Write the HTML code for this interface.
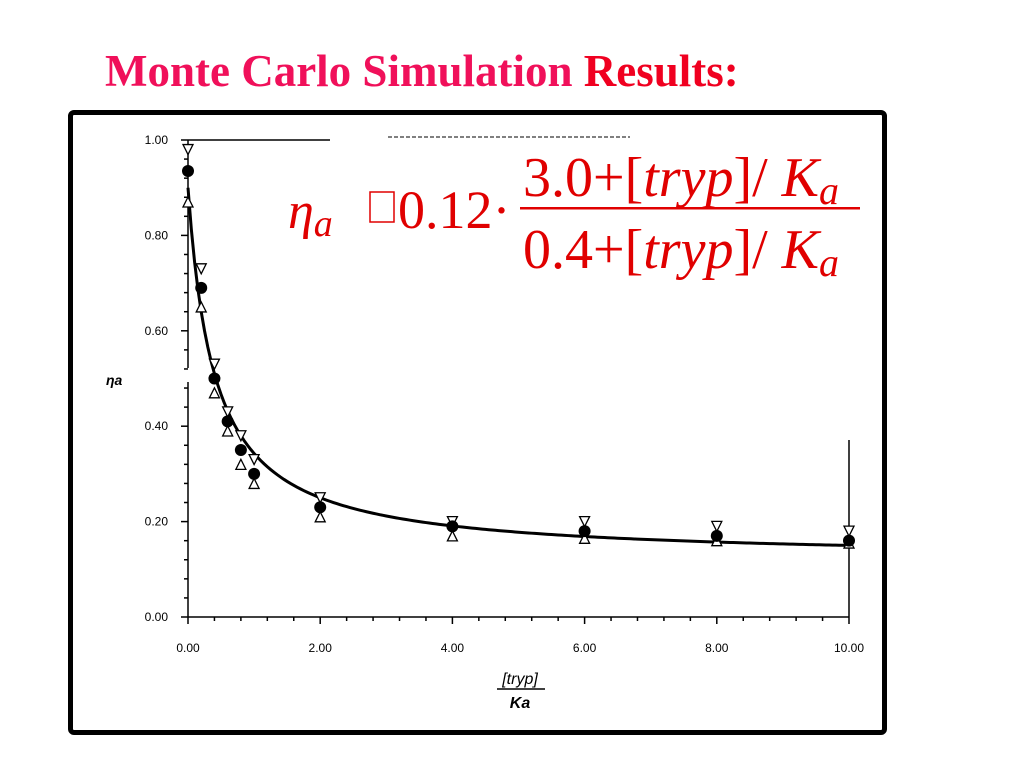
<!DOCTYPE html>
<html><head><meta charset="utf-8"><style>
body{margin:0;background:#fff;width:1024px;height:768px;overflow:hidden;position:relative;font-family:"Liberation Sans",sans-serif}
#title{position:absolute;left:105px;top:44px;font:bold 45px "Liberation Serif",serif;color:#f0105a;white-space:nowrap;line-height:1.2}
#frame{position:absolute;left:68px;top:110px;width:809px;height:615px;border:5px solid #000;border-radius:6px}
</style></head><body>
<div id="title">Monte Carlo Simulation <span style="color:#f00020">Results:</span></div>
<div id="frame"></div>
<svg id="chart" width="1024" height="768" style="position:absolute;left:0;top:0">
<g id="eq" fill="#e00000" font-family="Liberation Serif, serif">
<text x="288" y="228" font-size="52" font-style="italic">η<tspan font-size="38" dy="8">a</tspan></text>
<rect x="370" y="192" width="24" height="30" fill="none" stroke="#e00000" stroke-width="1.5"/>
<text x="398" y="228" font-size="54">0.12·</text>
<text x="523" y="196" font-size="56">3.0+[<tspan font-style="italic">tryp</tspan>]/ <tspan font-style="italic">K</tspan><tspan font-style="italic" font-size="40" dy="8">a</tspan></text>
<rect x="520" y="207" width="340" height="2.5"/>
<text x="523" y="268" font-size="56">0.4+[<tspan font-style="italic">tryp</tspan>]/ <tspan font-style="italic">K</tspan><tspan font-style="italic" font-size="40" dy="8">a</tspan></text>
</g>
</svg>
<script>
const xTicks=[0,2,4,6,8,10];
const xTickLabels=["0.00","2.00","4.00","6.00","8.00","10.00"];
const yTicks=[0,0.2,0.4,0.6,0.8,1.0];
const yTickLabels=["0.00","0.20","0.40","0.60","0.80","1.00"];
const xVals=[0,0.2,0.4,0.6,0.8,1,2,4,6,8,10];
const circleVals=[0.935,0.69,0.50,0.41,0.35,0.30,0.23,0.19,0.18,0.17,0.16];
const downTriVals=[0.98,0.73,0.53,0.43,0.38,0.33,0.25,0.20,0.20,0.19,0.18];
const upTriVals=[0.87,0.65,0.47,0.39,0.32,0.28,0.21,0.17,0.165,0.16,0.155];
const fitParams=[0.12,3.0,0.4];
const svg=document.getElementById('chart');
const NS='http://www.w3.org/2000/svg';
const X0=188,X1=849,Y0=617,Y1=140;
const sx=v=>X0+(v-0)/(10-0)*(X1-X0);
const sy=v=>Y0-(v-0)/(1-0)*(Y0-Y1);
function mk(tag,attrs,parent){const e=document.createElementNS(NS,tag);for(const k in attrs)e.setAttribute(k,attrs[k]);(parent||svg).appendChild(e);return e;}
const ax=mk('g',{stroke:'#000','stroke-width':1.5,fill:'none'});


mk('line',{x1:X0,y1:Y1,x2:X0,y2:368},ax);
mk('line',{x1:X0,y1:382,x2:X0,y2:Y0},ax);
mk('line',{x1:X0,y1:Y0,x2:X1,y2:Y0},ax);
mk('line',{x1:X0,y1:Y1,x2:330,y2:Y1},ax);
mk('line',{x1:388,y1:Y1-3,x2:630,y2:Y1-3,'stroke-dasharray':'4 2','stroke-width':1},ax);
mk('line',{x1:X1,y1:440,x2:X1,y2:Y0},ax);
for(let i=0;i<=25;i++){const v=i*0.04;mk('line',{x1:X0-(i%5==0?7:4),y1:sy(v),x2:X0,y2:sy(v)},ax);}
for(let i=0;i<=25;i++){const v=i*0.4;mk('line',{x1:sx(v),y1:Y0,x2:sx(v),y2:Y0+(i%5==0?7:4)},ax);}
yTicks.forEach((v,i)=>{const t=mk('text',{x:168,y:sy(v)+4,'text-anchor':'end','font-size':12});


t.textContent=yTickLabels[i];});
xTicks.forEach((v,i)=>{const t=mk('text',{x:sx(v),y:652,'text-anchor':'middle','font-size':12});


t.textContent=xTickLabels[i];});
const yl=mk('text',{x:106,y:385,'font-size':14,'font-weight':'bold','font-style':'italic'});


yl.textContent='ηa';
const xl=mk('g',{});


const t1=mk('text',{x:520,y:684,'text-anchor':'middle','font-size':16,'font-style':'italic'},xl);t1.textContent='[tryp]';
mk('line',{x1:497,y1:689,x2:545,y2:689,stroke:'#000','stroke-width':1.5},xl);
const t2=mk('text',{x:520,y:708,'text-anchor':'middle','font-size':16,'font-style':'italic','font-weight':'bold'},xl);t2.textContent='Ka';
let d='';for(let i=0;i<=200;i++){const v=i*0.05;const f=fitParams[0]*(fitParams[1]+v)/(fitParams[2]+v);d+=(i?'L':'M')+sx(v)+' '+sy(f);}
const fit=mk('path',{d:d,stroke:'#000','stroke-width':3,fill:'none'});


xVals.forEach((x,i)=>{
 const cx=sx(x);
 let y=sy(downTriVals[i]);
 const a=mk('path',{d:`M${cx-5} ${y-5}L${cx+5} ${y-5}L${cx} ${y+5}Z`,fill:'#fff',stroke:'#000','stroke-width':1.3});
 
 
 y=sy(upTriVals[i]);
 const b=mk('path',{d:`M${cx-5} ${y+5}L${cx+5} ${y+5}L${cx} ${y-5}Z`,fill:'#fff',stroke:'#000','stroke-width':1.3});
 
 
 const c=mk('circle',{cx:cx,cy:sy(circleVals[i]),r:6,fill:'#000'});
 
 
});
</script>
</body></html>
